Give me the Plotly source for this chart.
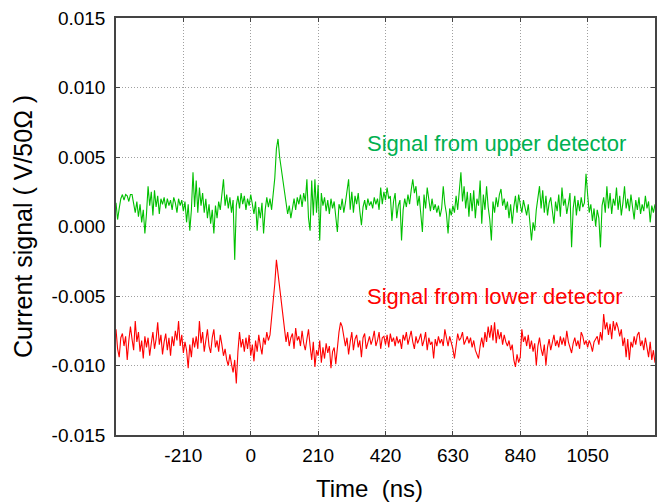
import numpy as np
import plotly.graph_objects as go

# Sampling: 5 ns steps from -420 ns to 1260 ns
T_START_NS = -420
T_STEP_NS = 5

# Upper detector current signal (mV into 50 ohm), one row per 100 ns
upper_mv = [
    1.7, 0.5, 1.3, 2.0, 2.3, 1.9, 2.3, 2.2, 1.8, 2.3, 2.3, 1.6, 1.0, 1.8, 0.7, 1.6, 0.3, 1.2, -0.5, 0.9,
    2.9, 1.5, 2.5, 0.8, 2.6, 1.4, 2.2, 0.9, 2.0, 1.6, 2.1, 1.3, 2.0, 1.5, 1.9, 1.2, 2.1, 1.7, 1.0, 2.0,
    1.5, 1.9, 1.1, 1.8, 0.3, 1.6, -0.3, 1.2, 3.9, 1.4, 3.3, 1.0, 2.8, 1.5, 2.4, 1.0, 2.0, 0.6, 1.6, 0.2,
    1.2, -0.5, 1.5, 0.6, 1.8, 1.2, 2.6, 3.4, 1.5, 2.3, 1.3, 2.1, 1.0, 1.9, -2.4, 1.5, 2.2, 1.3, 2.4, 1.6,
    2.2, 1.2, 2.0, 1.5, 2.3, 1.6, 0.9, 1.8, -0.3, 1.4, 0.6, 1.7, -0.5, 1.2, 2.1, 1.4, 2.0, 1.2, 2.3, 3.5,
    5.6, 6.3, 5.0, 4.2, 3.5, 2.6, 1.6, 0.9, 1.5, 0.6, 1.3, 2.0, 1.2, 2.1, 1.6, 2.3, 1.4, 2.4, 1.8, 3.4,
    0.6, -0.3, 3.3, 0.8, 3.4, 1.0, 3.0, -1.0, 2.4, 1.5, 2.1, 1.1, 1.9, 0.9, 2.0, 1.3, 1.8, 0.5, -0.4, 1.6,
    1.2, 2.0, 1.0, 1.7, 2.6, 3.4, 1.2, 2.5, 1.0, 2.2, 1.6, 2.4, 1.1, 0.1, 1.4, 1.9, 1.2, 2.0, 1.5, 1.8,
    1.3, 2.1, 1.6, 2.0, 1.2, 2.8, 1.6, 2.5, 1.9, 2.8, 2.0, 2.2, 0.4, 1.8, 2.4, 0.6, 1.5, 1.9, -1.0, 1.2,
    2.0, 1.4, 2.3, 1.6, 2.6, 3.4, 2.4, 2.9, 1.5, 2.2, 0.9, -0.4, 2.3, 1.3, 2.8, 1.9, 1.1, 2.0, 1.2, 1.6,
    1.0, 1.5, 0.7, 1.3, 2.9, 1.6, 0.9, -0.5, 1.3, 0.8, 1.5, 1.0, 2.2, 1.2, 2.6, 3.9, 1.8, 2.9, 1.3, 2.5,
    0.7, 2.4, 1.1, 2.6, 0.6, 2.0, 1.5, 3.3, 0.2, 2.3, 1.2, 2.9, 1.4, 0.5, -1.0, 1.8, 1.0, 2.1, 1.4, 2.3,
    2.7, 1.5, 2.0, 1.2, 1.8, 0.6, 1.6, 0.2, 1.4, 2.2, 1.0, 2.3, 1.6, 1.0, 1.9, 1.4, 0.8, 1.6, 0.4, -1.0,
    0.3, -0.3, 1.2, 2.0, 2.9, 1.3, 2.6, 1.0, 2.2, 0.8, 1.7, 2.1, 1.2, 0.2, 1.8, 1.1, 2.3, 0.7, 2.8, 1.5,
    2.0, 0.9, 1.6, 2.4, -1.5, 1.3, 2.2, 0.8, 1.9, 1.1, 2.1, 1.4, 1.7, 3.8, 2.3, 1.0, 1.6, 0.4, 1.3, 0.0,
    1.2, 0.6, -1.5, 1.5, 2.1, 1.0, 2.9, 1.3, 2.4, 0.9, 2.0, 1.5, 2.8, 1.2, 2.2, 0.8, 1.7, 2.9, 1.3, 2.0,
    1.1, 2.3, 1.4, 0.5, 1.9, 1.2, 2.1, 0.9, 1.6, 1.1, 2.2, 1.3, 1.8, 0.3, 1.5, 1.0, 1.6,
]

# Lower detector current signal (mV into 50 ohm), one row per 100 ns
lower_mv = [
    -7.4, -8.8, -9.4, -8.0, -7.7, -8.6, -7.9, -9.6, -8.2, -7.2, -8.1, -8.9, -6.8, -8.3, -7.6, -9.0, -8.2, -9.5, -7.9, -8.7,
    -8.0, -9.3, -8.4, -7.6, -8.8, -8.1, -6.9, -8.5, -7.8, -9.2, -8.3, -7.7, -8.9, -8.0, -9.3, -7.9, -8.6, -7.5, -8.2, -6.8,
    -8.6, -7.8, -9.1, -8.3, -8.9, -10.2, -8.5, -9.4, -8.0, -8.7, -7.9, -8.8, -6.8, -8.4, -7.6, -9.0, -8.2, -7.4, -8.6, -9.1,
    -8.0, -7.4, -8.7, -8.2, -9.0, -7.8, -8.5, -9.3, -8.8, -9.6, -10.0, -9.2, -9.9, -10.5, -9.6, -11.3, -9.0, -7.6, -8.7, -8.1,
    -9.0, -8.0, -8.8, -7.8, -9.3, -8.5, -9.7, -8.2, -9.0, -7.8, -8.6, -9.2, -8.0, -8.5, -7.6, -8.2, -7.8, -6.6, -5.8, -4.1,
    -2.4, -3.4, -4.4, -5.5, -6.7, -7.4, -8.3, -7.6, -8.6, -8.0, -7.7, -8.8, -7.3, -8.2, -7.9, -8.6, -7.5, -8.4, -8.9, -8.1,
    -7.4, -8.6, -9.6, -8.3, -10.1, -8.9, -9.3, -8.2, -9.8, -8.7, -9.5, -8.4, -9.1, -8.6, -10.2, -9.0, -8.7, -9.9, -8.5, -7.6,
    -6.9, -7.2, -7.9, -8.6, -8.0, -9.2, -8.3, -7.6, -8.9, -8.1, -7.8, -8.7, -8.2, -9.4, -8.0, -7.7, -8.8, -8.3, -7.9, -8.5,
    -8.1, -7.5, -8.6, -8.2, -7.6, -8.8, -8.0, -7.9, -8.5, -7.8, -8.7, -7.7, -8.3, -8.0, -8.6, -7.9, -8.4, -8.1, -8.8, -7.8,
    -8.2, -7.6, -8.5, -8.0, -7.5, -8.3, -8.8, -7.9, -8.4, -8.1, -7.7, -8.6, -8.2, -7.6, -8.9, -8.0, -8.5, -8.3, -9.5, -8.1,
    -8.6, -7.9, -8.4, -8.1, -8.6, -7.4, -8.0, -8.6, -7.9, -8.3, -8.8, -9.5, -8.4, -7.7, -8.2, -8.0, -7.6, -8.5, -8.2, -7.9,
    -8.4, -8.0, -8.7, -8.2, -8.9, -9.2, -9.5, -8.6, -8.0, -8.7, -7.6, -8.3, -7.2, -8.0, -7.1, -8.2, -6.9, -8.4, -7.4, -8.1,
    -7.6, -8.5, -7.8, -8.3, -8.6, -8.2, -8.9, -8.5, -9.6, -10.1, -9.2, -9.8, -9.4, -7.4, -8.3, -7.9, -8.6, -7.8, -8.8, -8.2,
    -9.0, -8.4, -10.0, -8.6, -8.0, -8.8, -9.3, -8.5, -10.0, -8.7, -8.1, -8.9, -8.3, -7.8, -8.6, -8.2, -8.7, -7.9, -8.5, -8.0,
    -8.6, -7.5, -8.3, -8.8, -9.1, -8.4, -8.0, -8.6, -8.2, -8.8, -7.6, -7.9, -8.5, -8.2, -8.7, -8.2, -8.5, -9.0, -8.3, -8.1,
    -7.9, -8.5, -7.6, -8.2, -6.3, -7.4, -6.9, -7.8, -7.0, -8.1, -6.8, -7.5, -6.9, -7.3, -7.9, -7.4, -8.6, -8.0, -9.4, -8.1,
    -9.6, -8.3, -8.7, -7.9, -8.5, -7.8, -7.6, -8.6, -8.2, -8.9, -8.0, -8.7, -9.4, -8.3, -9.6, -8.9, -9.8,
]

x_tick_vals = [-210, 0, 210, 420, 630, 840, 1050]
x_tick_text = ["-210", "0", "210", "420", "630", "840", "1050"]
y_tick_vals = [-0.015, -0.010, -0.005, 0.0, 0.005, 0.010, 0.015]
y_tick_text = ["-0.015", "-0.010", "-0.005", "0.000", "0.005", "0.010", "0.015"]

time_ns = T_START_NS + T_STEP_NS * np.arange(len(upper_mv))
upper_v = np.array(upper_mv) / 1000.0
lower_v = np.array(lower_mv) / 1000.0

FONT = "Arial, Liberation Sans, sans-serif"
GREEN_LINE = "#00c000"
GREEN_TEXT = "#00b050"
RED = "#ff0000"

# Figure geometry (pixels)
WIDTH, HEIGHT = 658, 504
MARGIN = dict(l=116, r=1, t=18, b=69)
PLOT_H = HEIGHT - MARGIN["t"] - MARGIN["b"]
X_TITLE_GAP = 53  # distance from the x axis down to the x title centre

fig = go.Figure()
fig.add_trace(go.Scatter(x=time_ns, y=upper_v, mode="lines",
                         line=dict(color=GREEN_LINE, width=1.1), showlegend=False))
fig.add_trace(go.Scatter(x=time_ns, y=lower_v, mode="lines",
                         line=dict(color=RED, width=1.1), showlegend=False))

axis_common = dict(
    showline=True, linecolor="#444444", linewidth=1.5, mirror="ticks",
    ticks="inside", ticklen=4, tickcolor="#444444",
    showgrid=True, gridcolor="#a0a0a0", griddash="1px,2px", gridwidth=1,
    zeroline=False, tickfont=dict(family=FONT, size=19, color="black"),
)

fig.update_xaxes(range=[-420, 1260], tickvals=x_tick_vals, ticktext=x_tick_text,
                 ticklabelstandoff=2, **axis_common)
fig.update_yaxes(range=[-0.015, 0.015], tickvals=y_tick_vals, ticktext=y_tick_text,
                 ticklabelstandoff=5,
                 title=dict(text="Current signal ( V/50\u03a9 )",
                            font=dict(family=FONT, size=25, color="black"), standoff=12),
                 **axis_common)

# x-axis title, set slightly left of the plot centre
fig.add_annotation(x=0.471, y=-X_TITLE_GAP / PLOT_H, xref="paper", yref="paper",
                   xanchor="center", yanchor="middle", text="Time  (ns)", showarrow=False,
                   font=dict(family=FONT, size=24, color="black"))
fig.add_annotation(x=0.706, y=0.700, xref="paper", yref="paper",
                   xanchor="center", yanchor="middle",
                   text="Signal from upper detector", showarrow=False,
                   font=dict(family=FONT, size=22, color=GREEN_TEXT))
fig.add_annotation(x=0.704, y=0.331, xref="paper", yref="paper",
                   xanchor="center", yanchor="middle",
                   text="Signal from lower detector", showarrow=False,
                   font=dict(family=FONT, size=22, color=RED))

fig.update_layout(
    width=WIDTH, height=HEIGHT,
    margin=MARGIN,
    paper_bgcolor="white", plot_bgcolor="white",
    showlegend=False,
)

fig.write_html("out.html")
